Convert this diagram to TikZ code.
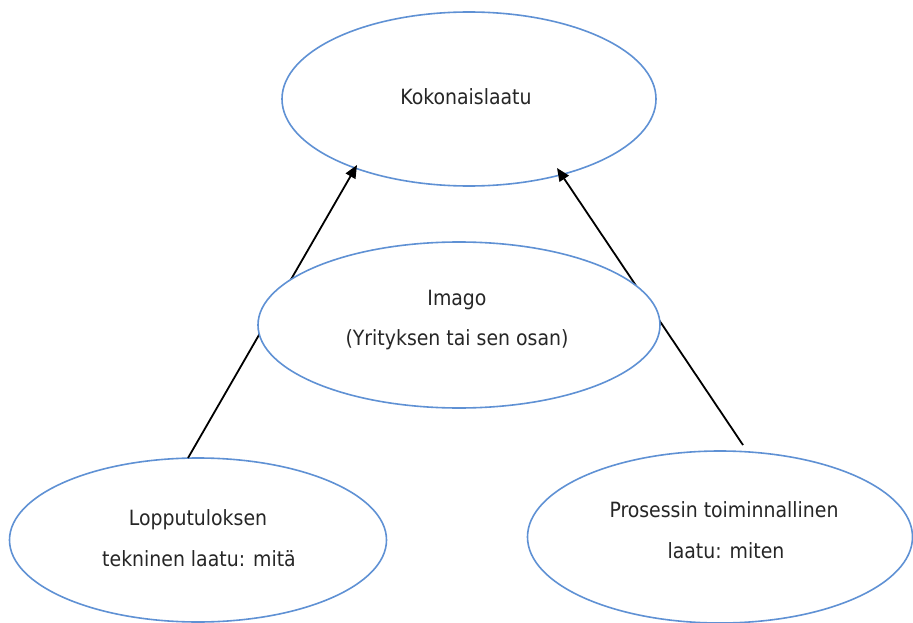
\documentclass[tikz,border=0pt]{standalone}
\usepackage{fontspec}
\setmainfont{DejaVu Sans Condensed}
\usetikzlibrary{shapes.geometric,arrows.meta}
\definecolor{ellblue}{RGB}{95,145,212}
\tikzset{
  oval/.style={ellipse, draw=ellblue, line width=1.6pt, fill=white, inner sep=0pt},
  lbl/.style={inner sep=0pt, font=\fontsize{21}{24}\selectfont, text=black!85},
  conn/.style={line width=1.8pt, -{Triangle[length=13pt,width=11pt]}}
}
\begin{document}
\begin{tikzpicture}[x=1pt,y=-1pt]
\useasboundingbox (0,0) rectangle (913,623);
% top
\node[oval, minimum width=374pt, minimum height=174pt] (top) at (469,99) {};
\node[lbl] (tt) at (466,97) {Kokonaislaatu};
% bottom ellipses
\node[oval, minimum width=377pt, minimum height=164pt] (bl) at (198,540) {};
\node[oval, minimum width=385pt, minimum height=172pt] (br) at (720,537) {};
% connectors
\coordinate (ls) at (188,458);
\coordinate (lt) at (357,165);
\coordinate (rs) at (743,445);
\coordinate (rt) at (557,168);
\draw[conn] (ls) -- (lt);
\draw[conn] (rs) -- (rt);
% middle
\node[oval, minimum width=402pt, minimum height=166pt] (mid) at (459,325) {};
\node[lbl] (m1) at (457,300) {Imago};
\node[lbl] (m2) at (457,340) {(Yrityksen tai sen osan)};
\node[lbl] (b1) at (198,520) {Lopputuloksen};
\node[lbl] (b2) at (199,559) {tekninen laatu: mitä};
\node[lbl] (r1) at (724,510) {Prosessin toiminnallinen};
\node[lbl] (r2) at (726,551) {laatu: miten};
\end{tikzpicture}
\end{document}
